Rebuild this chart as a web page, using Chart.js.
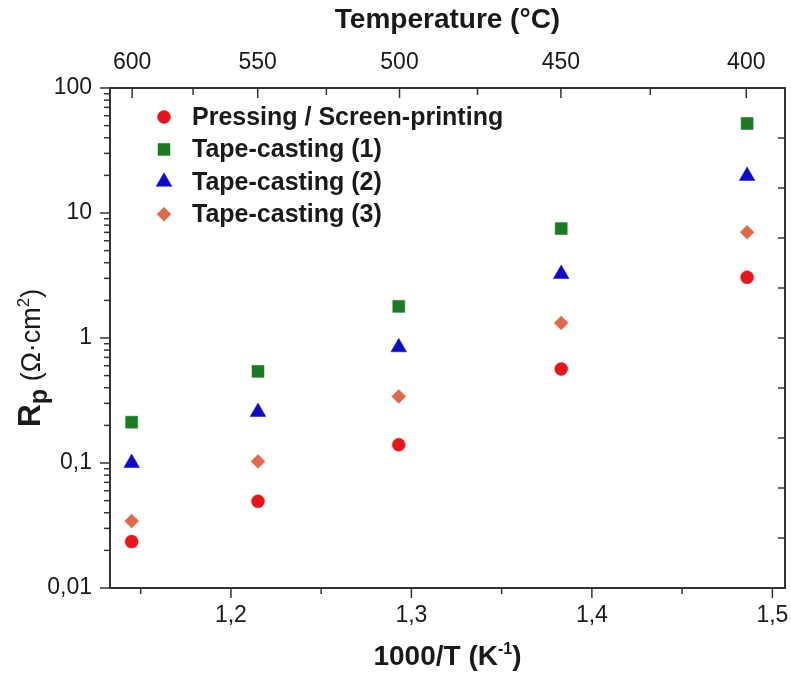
<!DOCTYPE html>
<html>
<head>
<meta charset="utf-8">
<script src="https://cdn.jsdelivr.net/npm/chart.js@4.4.0/dist/chart.umd.min.js"></script>
<style>
    html, body { margin: 0; padding: 0; background: #fff; }
    #wrap { width: 791px; height: 675px; }
</style>
</head>
<body>
<div id="wrap"><canvas id="rpChart" width="791" height="675"></canvas></div>
<script>
// ------------------ Data ------------------
const invT = [1.145, 1.215, 1.293, 1.383, 1.486];          // 1000/T (K^-1)
const pressing = [0.0235, 0.0494, 0.140, 0.565, 3.06];
const tape1 = [0.212, 0.541, 1.79, 7.5, 52];
const tape2 = [0.100, 0.256, 0.842, 3.25, 19.8];
const tape3 = [0.0343, 0.103, 0.341, 1.32, 7.0];

const seriesNames = ["Pressing / Screen-printing", "Tape-casting (1)", "Tape-casting (2)", "Tape-casting (3)"];

// Axis ticks
const xTicks = [1.2, 1.3, 1.4, 1.5];
const xMinor = [1.15, 1.25, 1.35, 1.45];
const tempTicks = [600, 550, 500, 450, 400];
const tempMinor = [575, 525, 475, 425];
const yTicks = [0.01, 0.1, 1, 10, 100];

const FONT = "'Liberation Sans', Arial, sans-serif";
const AXIS = "#333";
const TEXT = "#1a1a1a";

const toInv = t => 1000 / (t + 273.15);
const pts = ys => invT.map((x, i) => ({ x: x, y: ys[i] }));

// ------------------ Plugins ------------------
// tick marks: left/bottom outward, top/right inward
const tickMarks = {
    id: "tickMarks",
    afterDraw(chart) {
        const { ctx, chartArea: a, scales } = chart;
        ctx.save();
        ctx.strokeStyle = AXIS;
        ctx.lineWidth = 1.5;
        const line = (x1, y1, x2, y2) => {
            ctx.beginPath(); ctx.moveTo(x1, y1); ctx.lineTo(x2, y2); ctx.stroke();
        };
        xTicks.forEach(v => { const p = scales.x.getPixelForValue(v); line(p, a.bottom, p, a.bottom + 10); });
        xMinor.forEach(v => { const p = scales.x.getPixelForValue(v); line(p, a.bottom, p, a.bottom + 6); });
        tempTicks.forEach(t => { const p = scales.x2.getPixelForValue(toInv(t)); line(p, a.top, p, a.top + 10); });
        tempMinor.forEach(t => { const p = scales.x2.getPixelForValue(toInv(t)); line(p, a.top, p, a.top + 7); });
        yTicks.forEach((d, i) => {
            const p = scales.y.getPixelForValue(d);
            line(a.left, p, a.left - 10, p);
            if (i < yTicks.length - 1) {
                for (let m = 2; m <= 9; m++) {
                    const q = scales.y.getPixelForValue(d * m);
                    line(a.left, q, a.left - 6, q);
                }
            }
        });
        for (let k = 1; k <= 9; k++) {
            const p = scales.y2.getPixelForValue(k);
            line(a.right, p, a.right - 7, p);
        }
        ctx.restore();
    }
};

// legend inside the plot, upper left
const innerLegend = {
    id: "innerLegend",
    afterDatasetsDraw(chart) {
        const { ctx, chartArea: a } = chart;
        ctx.save();
        chart.data.datasets.forEach((ds, i) => {
            const x = a.left + 54;
            const y = a.top + 29 + i * 32.4;
            ctx.fillStyle = ds.backgroundColor;
            ctx.strokeStyle = ds.borderColor;
            ctx.lineWidth = ds.borderWidth;
            Chart.helpers.drawPoint(ctx, {
                pointStyle: ds.pointStyle, radius: ds.pointRadius,
                borderWidth: ds.borderWidth, rotation: 0
            }, x, y);
            ctx.fillStyle = TEXT;
            ctx.font = "bold 25px " + FONT;
            ctx.textBaseline = "middle";
            ctx.textAlign = "left";
            ctx.fillText(ds.label, x + 28, y + 1);
        });
        ctx.restore();
    }
};

// draws a row of text pieces [text, font, dy]
function drawPieces(ctx, pieces, cx, cy) {
    let total = 0;
    pieces.forEach(p => { ctx.font = p[1]; total += ctx.measureText(p[0]).width; });
    let x = cx - total / 2;
    pieces.forEach(p => {
        ctx.font = p[1];
        ctx.fillText(p[0], x, cy + (p[2] || 0));
        x += ctx.measureText(p[0]).width;
    });
}

// axis titles
const axisTitles = {
    id: "axisTitles",
    afterDraw(chart) {
        const { ctx, chartArea: a } = chart;
        const cx = (a.left + a.right) / 2;
        ctx.save();
        ctx.fillStyle = TEXT;
        ctx.textBaseline = "alphabetic";
        ctx.textAlign = "left";
        drawPieces(ctx, [["Temperature (°C)", "bold 28px " + FONT]], cx, 28);
        drawPieces(ctx, [
            ["1000/T (K", "bold 28px " + FONT],
            ["-1", "bold 16px " + FONT, -11],
            [")", "bold 28px " + FONT]
        ], cx, 665);
        ctx.translate(40, 358);
        ctx.rotate(-Math.PI / 2);
        drawPieces(ctx, [
            ["R", "bold 32px " + FONT],
            ["p", "bold 25px " + FONT, 7],
            [" (Ω·cm", "27px " + FONT],
            ["2", "17px " + FONT, -11],
            [")", "27px " + FONT]
        ], 0, 0);
        ctx.restore();
    }
};

// fixed box sizes so the plot area sits where the reference has it
const noPad = s => { s.paddingLeft = 0; s.paddingRight = 0; s.paddingTop = 0; s.paddingBottom = 0; };

// ------------------ Chart ------------------
const tickFont = { family: FONT, size: 23 };

new Chart(document.getElementById("rpChart"), {
    type: "scatter",
    data: {
        datasets: [{
            label: seriesNames[0],
            data: pts(pressing),
            pointStyle: "circle",
            pointRadius: 6.5,
            backgroundColor: "#e8141c",
            borderColor: "#e8141c",
            borderWidth: 0.5
        }, {
            label: seriesNames[1],
            data: pts(tape1),
            pointStyle: "rect",
            pointRadius: 8.5,
            backgroundColor: "#1c7a24",
            borderColor: "#1c7a24",
            borderWidth: 0.5
        }, {
            label: seriesNames[2],
            data: pts(tape2),
            pointStyle: "triangle",
            pointRadius: 9,
            backgroundColor: "#0b0bc8",
            borderColor: "#0b0bc8",
            borderWidth: 0.5
        }, {
            label: seriesNames[3],
            data: pts(tape3),
            pointStyle: "rectRot",
            pointRadius: 7,
            backgroundColor: "#e0694a",
            borderColor: "#e0694a",
            borderWidth: 0.5
        }]
    },
    options: {
        responsive: false,
        animation: false,
        layout: { padding: 0, autoPadding: false },
        plugins: {
            legend: { display: false },
            tooltip: { enabled: false }
        },
        elements: { point: { hoverRadius: 0 } },
        scales: {
            x: {
                type: "linear",
                position: "bottom",
                min: 1.133,
                max: 1.507,
                afterBuildTicks: s => { s.ticks = xTicks.map(v => ({ value: v })); },
                afterFit: s => { s.height = 87; noPad(s); },
                ticks: {
                    callback: v => v.toFixed(1).replace(".", ","),
                    font: tickFont, color: TEXT, padding: 14,
                    autoSkip: false, maxRotation: 0
                },
                grid: { display: false, drawTicks: false },
                border: { display: true, color: AXIS, width: 2 }
            },
            x2: {
                type: "linear",
                position: "top",
                min: 1.133,
                max: 1.507,
                afterBuildTicks: s => { s.ticks = tempTicks.map(t => ({ value: toInv(t) })); },
                afterFit: s => { s.height = 88; noPad(s); },
                ticks: {
                    callback: (v, i) => String(tempTicks[i]),
                    font: tickFont, color: TEXT, padding: 12,
                    autoSkip: false, maxRotation: 0
                },
                grid: { display: false, drawTicks: false },
                border: { display: true, color: AXIS, width: 2 }
            },
            y: {
                type: "logarithmic",
                position: "left",
                min: 0.01,
                max: 100,
                afterBuildTicks: s => { s.ticks = yTicks.map(v => ({ value: v })); },
                afterFit: s => { s.width = 110; noPad(s); },
                ticks: {
                    callback: v => String(v).replace(".", ","),
                    font: tickFont, color: TEXT, padding: 18,
                    autoSkip: false
                },
                grid: { display: false, drawTicks: false },
                border: { display: true, color: AXIS, width: 2 }
            },
            y2: {
                type: "linear",
                position: "right",
                min: 0,
                max: 10,
                afterFit: s => { s.width = 6; noPad(s); },
                ticks: { display: false },
                grid: { display: false, drawTicks: false },
                border: { display: true, color: AXIS, width: 2 }
            }
        }
    },
    plugins: [tickMarks, innerLegend, axisTitles]
});
</script>
</body>
</html>
